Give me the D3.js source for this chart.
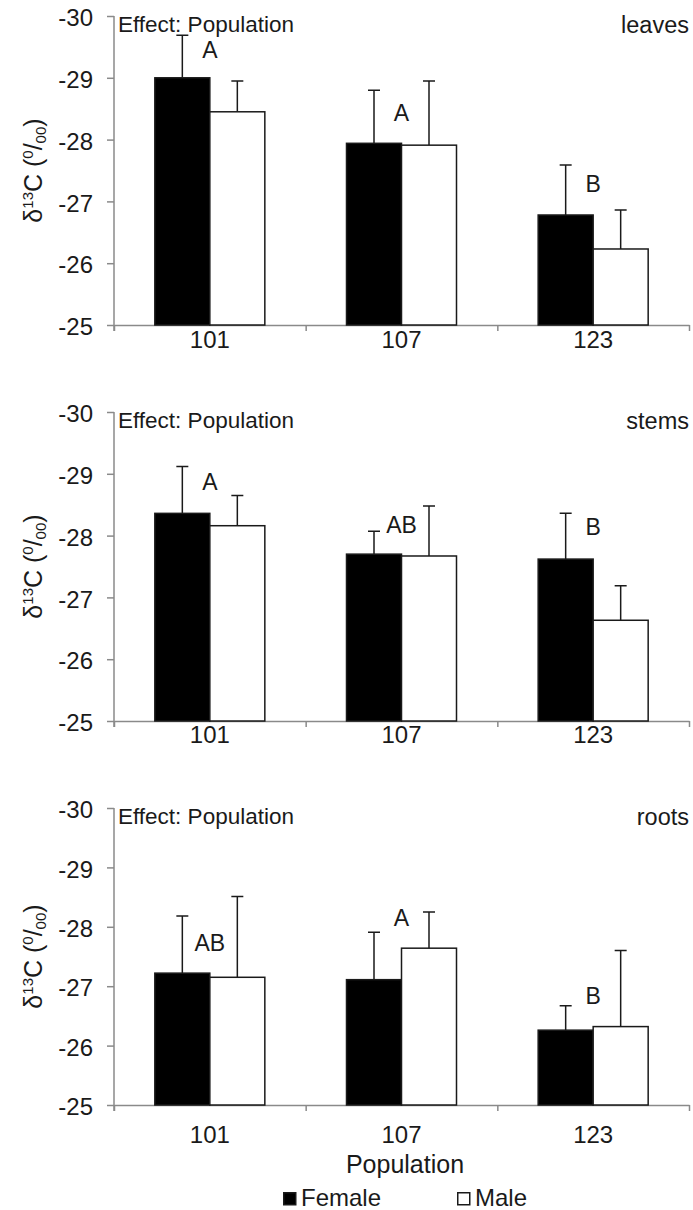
<!DOCTYPE html>
<html>
<head>
<meta charset="utf-8">
<script src="https://cdn.jsdelivr.net/npm/d3@7"></script>
<style>
  body { margin: 0; background: #fff; }
  svg { display: block; font-family: "Liberation Sans", Arial, sans-serif; }
  .axis path, .axis line { stroke: #8a8a8a; stroke-width: 1.5; }
  .axis text { fill: #1a1a1a; font-size: 24px; }
</style>
</head>
<body>
<div id="vis"></div>
<script>
const populations = ['101', '107', '123'];
const tissues = ['leaves', 'stems', 'roots'];
const sexes = ['Female', 'Male'];
const yTicks = [-30, -29, -28, -27, -26, -25];

// means per tissue, one value per population
const femaleMean = [
  [-29.00, -27.94, -26.78],
  [-28.36, -27.70, -27.62],
  [-27.22, -27.11, -26.26]
];
const maleMean = [
  [-28.45, -27.91, -26.23],
  [-28.16, -27.67, -26.63],
  [-27.15, -27.64, -26.32]
];
// error bar lengths (drawn one-sided, towards more negative)
const femaleErr = [
  [0.69, 0.86, 0.81],
  [0.76, 0.37, 0.74],
  [0.96, 0.80, 0.41]
];
const maleErr = [
  [0.50, 1.04, 0.63],
  [0.49, 0.81, 0.56],
  [1.36, 0.61, 1.28]
];
// significance letters and where they sit on the y scale
const letters = [
  ['A', 'A', 'B'],
  ['A', 'AB', 'B'],
  ['AB', 'A', 'B']
];
const letterAt = [
  [-29.32, -28.30, -27.15],
  [-28.74, -28.05, -28.01],
  [-27.59, -28.02, -26.70]
];

const width = 693;
const height = 1210;
const left = 114;
const right = 689;
const panelTop = [16, 412, 808];
const panelBottom = [325, 721, 1105];
const labelDrop = [23, 22, 38];

const svg = d3.select('#vis')
              .append('svg')
                .attr('width', width)
                .attr('height', height);

const x = d3.scaleBand()
            .domain(populations)
            .range([left, right]);
const xEdge = d3.scaleLinear()
                .domain([0, populations.length])
                .range([left, right]);
const xSex = d3.scaleBand()
               .domain(sexes)
               .range([-55, 55]);
const barW = xSex.bandwidth();

function drawPanel(i) {
  const g = svg.append('g');
  const y = d3.scaleLinear()
              .domain([-25, -30])
              .range([panelBottom[i], panelTop[i]]);

  // x axis: line with ticks between categories, labels under the centres
  g.append('g')
      .attr('class', 'axis')
      .attr('transform', 'translate(0,' + panelBottom[i] + ')')
      .call(d3.axisBottom(xEdge).tickValues([0, 1, 2, 3]).tickSize(6).tickSizeOuter(0).tickFormat(''));

  g.selectAll('.xlab')
    .data(populations)
    .enter().append('text')
      .attr('x', d => x(d) + x.bandwidth() / 2)
      .attr('y', panelBottom[i] + labelDrop[i])
      .attr('text-anchor', 'middle')
      .attr('fill', '#1a1a1a')
      .style('font-size', '24px')
      .text(d => d);

  const yAxis = g.append('g')
      .attr('class', 'axis')
      .attr('transform', 'translate(' + left + ',0)')
      .call(d3.axisLeft(y).tickValues(yTicks).tickSize(7).tickSizeOuter(0).tickFormat(d => String(d)));
  yAxis.selectAll('text').attr('x', -21).attr('dy', '0.4em');
  yAxis.select('.domain').attr('d', 'M0,' + panelTop[i] + 'V' + (panelBottom[i] + 6));

  const rows = populations.map((p, j) => [
    { pop: p, sex: 'Female', v: femaleMean[i][j], e: femaleErr[i][j] },
    { pop: p, sex: 'Male', v: maleMean[i][j], e: maleErr[i][j] }
  ]).flat();

  // error bars behind the bars
  g.selectAll('.err')
    .data(rows)
    .enter().append('path')
      .attr('fill', 'none')
      .attr('stroke', '#1a1a1a')
      .attr('stroke-width', 1.5)
      .attr('d', d => {
        const cx = x(d.pop) + x.bandwidth() / 2 + xSex(d.sex) + barW / 2;
        return 'M' + cx + ',' + y(d.v) + 'V' + y(d.v - d.e) + 'M' + (cx - 6) + ',' + y(d.v - d.e) + 'H' + (cx + 6);
      });

  g.selectAll('.bar')
    .data(rows)
    .enter().append('rect')
      .attr('x', d => x(d.pop) + x.bandwidth() / 2 + xSex(d.sex))
      .attr('y', d => y(d.v))
      .attr('width', barW)
      .attr('height', d => y(-25) - y(d.v))
      .attr('fill', d => d.sex === 'Female' ? '#000' : '#fff')
      .attr('stroke', '#1a1a1a')
      .attr('stroke-width', 1.5);

  g.selectAll('.letter')
    .data(populations)
    .enter().append('text')
      .attr('x', d => x(d) + x.bandwidth() / 2)
      .attr('y', (d, j) => y(letterAt[i][j]))
      .attr('text-anchor', 'middle')
      .attr('fill', '#1a1a1a')
      .style('font-size', '23px')
      .text((d, j) => letters[i][j]);

  g.append('text')
      .attr('x', left + 4)
      .attr('y', panelTop[i] + 16)
      .attr('fill', '#1a1a1a')
      .style('font-size', '22.5px')
      .text('Effect: Population');

  g.append('text')
      .attr('x', 689)
      .attr('y', panelTop[i] + 17)
      .attr('text-anchor', 'end')
      .attr('fill', '#1a1a1a')
      .style('font-size', '23.5px')
      .text(tissues[i]);

  // y title: δ13C (0/00)
  const cy = (panelTop[i] + panelBottom[i]) / 2;
  const t = g.append('text')
      .attr('transform', 'translate(42,' + cy + ') rotate(-90)')
      .attr('text-anchor', 'middle')
      .attr('fill', '#1a1a1a')
      .style('font-size', '25px');
  t.append('tspan').text('δ');
  t.append('tspan').attr('dy', -9).style('font-size', '15px').text('13');
  t.append('tspan').attr('dy', 9).text('C (');
  t.append('tspan').attr('dy', -9).style('font-size', '15px').text('0');
  t.append('tspan').attr('dy', 9).text('/');
  t.append('tspan').attr('dy', 4).style('font-size', '15px').text('00');
  t.append('tspan').attr('dy', -4).text(')');
}

tissues.forEach((d, i) => drawPanel(i));

svg.append('text')
    .attr('x', 405)
    .attr('y', 1173)
    .attr('text-anchor', 'middle')
    .attr('fill', '#1a1a1a')
    .style('font-size', '25px')
    .text('Population');

// legend
const legendX = [283, 457];
const legend = svg.selectAll('.legend')
                  .data(sexes)
                  .enter().append('g')
                    .attr('transform', (d, i) => 'translate(' + legendX[i] + ',1192)');
legend.append('rect')
    .attr('x', 0.75)
    .attr('y', 0.75)
    .attr('width', 12)
    .attr('height', 12)
    .attr('fill', d => d === 'Female' ? '#000' : '#fff')
    .attr('stroke', '#1a1a1a')
    .attr('stroke-width', 1.5);
legend.append('text')
    .attr('x', 18)
    .attr('y', 13.5)
    .attr('fill', '#1a1a1a')
    .style('font-size', '24px')
    .text(d => d);

// vim:ts=2:sw=2:et
</script>
</body>
</html>
